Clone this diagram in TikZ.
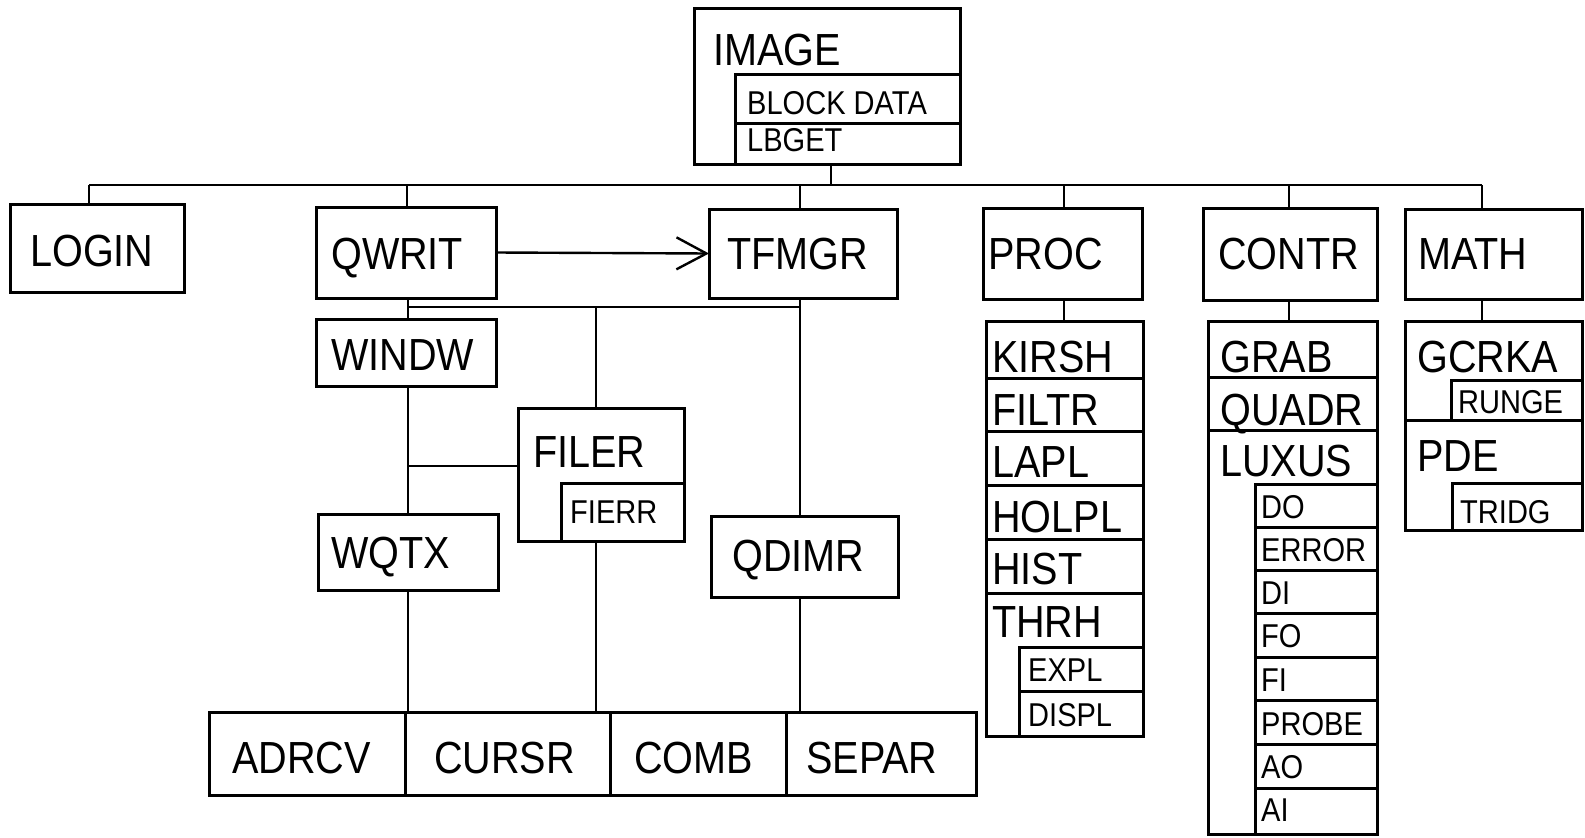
\documentclass[tikz,border=0pt]{standalone}
\usepackage{fontspec}
\setmainfont{Liberation Sans}[FakeStretch=0.88]
\usetikzlibrary{arrows.meta}
\newcommand\Bx[5]{\node[bx,minimum width=#4pt,minimum height=#5pt] (#1) at (#2,#3) {};}
\newcommand\Tb[4]{\node[big] (#1) at (#2,#3) {#4};}
\newcommand\Ts[4]{\node[sml] (#1) at (#2,#3) {#4};}
\begin{document}
\begin{tikzpicture}[x=1pt,y=-1pt,
  bx/.style={draw,line width=3pt,inner sep=0pt,outer sep=0pt,anchor=north west},
  big/.style={inner sep=0pt,anchor=base west,font=\fontsize{45}{50}\selectfont},
  sml/.style={inner sep=0pt,anchor=base west,font=\fontsize{33}{38}\selectfont},
  cn/.style={line width=2.4pt}]
\useasboundingbox (0,0) rectangle (1585,838);
% top
\Bx{image}{694}{8}{266}{156}
\Bx{blk}{735}{74}{225}{49}
\Bx{lbget}{735}{123}{225}{41}
% level 1
\Bx{login}{10}{204}{174}{88}
\Bx{qwrit}{316}{207}{180}{91}
\Bx{tfmgr}{709}{209}{188}{89}
\Bx{proc}{983}{208}{159}{91}
\Bx{contr}{1203}{208}{174}{92}
\Bx{math}{1405}{209}{177}{90}
% qwrit subtree
\Bx{windw}{316}{319}{180}{67}
\Bx{filer}{518}{408}{166}{133}
\Bx{fierr}{561}{483}{123}{58}
\Bx{wqtx}{318}{514}{180}{76}
\Bx{qdimr}{711}{516}{187}{81}
\Bx{adrcv}{209}{712}{196}{83}
\Bx{cursr}{405}{712}{205}{83}
\Bx{comb}{610}{712}{176}{83}
\Bx{separ}{786}{712}{190}{83}
% proc list
\Bx{kirsh}{986}{321}{157}{57}
\Bx{filtr}{986}{378}{157}{53}
\Bx{lapl}{986}{431}{157}{54}
\Bx{holpl}{986}{485}{157}{54}
\Bx{hist}{986}{539}{157}{54}
\Bx{thrh}{986}{593}{157}{143}
\Bx{expl}{1019}{647}{124}{44}
\Bx{displ}{1019}{691}{124}{45}
% contr list
\Bx{grab}{1208}{321}{169}{56}
\Bx{quadr}{1208}{377}{169}{53}
\Bx{luxus}{1208}{430}{169}{404}
\Bx{do}{1255}{484}{122}{43}
\Bx{error}{1255}{527}{122}{43}
\Bx{di}{1255}{570}{122}{43}
\Bx{fo}{1255}{613}{122}{44}
\Bx{fi}{1255}{657}{122}{43}
\Bx{probe}{1255}{700}{122}{44}
\Bx{ao}{1255}{744}{122}{44}
\Bx{ai}{1255}{788}{122}{46}
% math list
\Bx{gcrka}{1405}{321}{177}{99}
\Bx{runge}{1451}{380}{131}{40}
\Bx{pde}{1405}{420}{177}{110}
\Bx{tridg}{1452}{483}{130}{47}
% texts
\Tb{t-image}{713}{65}{IMAGE}
\Ts{t-blk}{747}{114}{BLOCK DATA}
\Ts{t-lbget}{747}{151}{LBGET}
\Tb{t-login}{30}{266}{LOGIN}
\Tb{t-qwrit}{331}{269}{QWRIT}
\Tb{t-tfmgr}{727}{269}{TFMGR}
\Tb{t-proc}{988}{269}{PROC}
\Tb{t-contr}{1218}{269}{CONTR}
\Tb{t-math}{1418}{269}{MATH}
\Tb{t-windw}{331}{370}{WINDW}
\Tb{t-filer}{533}{467}{FILER}
\Ts{t-fierr}{570}{523}{FIERR}
\Tb{t-wqtx}{331}{568}{WQTX}
\Tb{t-qdimr}{732}{571}{QDIMR}
\Tb{t-adrcv}{232}{773}{ADRCV}
\Tb{t-cursr}{434}{773}{CURSR}
\Tb{t-comb}{634}{773}{COMB}
\Tb{t-separ}{806}{773}{SEPAR}
\Tb{t-kirsh}{992}{372}{KIRSH}
\Tb{t-filtr}{992}{425}{FILTR}
\Tb{t-lapl}{992}{477}{LAPL}
\Tb{t-holpl}{992}{532}{HOLPL}
\Tb{t-hist}{992}{584}{HIST}
\Tb{t-thrh}{992}{637}{THRH}
\Ts{t-expl}{1028}{681}{EXPL}
\Ts{t-displ}{1028}{726}{DISPL}
\Tb{t-grab}{1220}{372}{GRAB}
\Tb{t-quadr}{1220}{425}{QUADR}
\Tb{t-luxus}{1220}{476}{LUXUS}
\Ts{t-do}{1261}{518}{DO}
\Ts{t-error}{1261}{561}{ERROR}
\Ts{t-di}{1261}{604}{DI}
\Ts{t-fo}{1261}{647}{FO}
\Ts{t-fi}{1261}{691}{FI}
\Ts{t-probe}{1261}{735}{PROBE}
\Ts{t-ao}{1261}{778}{AO}
\Ts{t-ai}{1261}{821}{AI}
\Tb{t-gcrka}{1417}{372}{GCRKA}
\Ts{t-runge}{1458}{413}{RUNGE}
\Tb{t-pde}{1417}{471}{PDE}
\Ts{t-tridg}{1460}{523}{TRIDG}
% main bus
\coordinate (jL) at (89,185);
\coordinate (jQ) at (407,185);
\coordinate (jT) at (800,185);
\coordinate (jI) at (831,185);
\coordinate (jP) at (1064,185);
\coordinate (jC) at (1289,185);
\coordinate (jM) at (1482,185);
\draw[cn] (jL) -- (jM);
\draw[cn] (jI) -- (jI |- image.south);
\draw[cn] (jL) -- (jL |- login.north);
\draw[cn] (jQ) -- (jQ |- qwrit.north);
\draw[cn] (jT) -- (jT |- tfmgr.north);
\draw[cn] (jP) -- (jP |- proc.north);
\draw[cn] (jC) -- (jC |- contr.north);
\draw[cn] (jM) -- (jM |- math.north);
% lists
\draw[cn] (jP |- proc.south) -- (jP |- kirsh.north);
\draw[cn] (jC |- contr.south) -- (jC |- grab.north);
\draw[cn] (jM |- math.south) -- (jM |- gcrka.north);
% qwrit subtree
\coordinate (kQ) at (408,307);
\coordinate (kF) at (596,307);
\coordinate (kT) at (800,307);
\coordinate (kB) at (408,466);
\draw[cn,-{Straight Barb[length=30pt,width=32pt]}] (qwrit.east) -- (tfmgr.west);
\draw[cn] (kQ |- qwrit.south) -- (kQ |- windw.north);
\draw[cn] (kQ) -- (kT);
\draw[cn] (kT |- tfmgr.south) -- (kT |- qdimr.north);
\draw[cn] (kF) -- (kF |- filer.north);
\draw[cn] (kQ |- windw.south) -- (kQ |- wqtx.north);
\draw[cn] (kB) -- (kB -| filer.west);
\draw[cn] (kQ |- wqtx.south) -- (kQ |- cursr.north);
\draw[cn] (kF |- fierr.south) -- (kF |- cursr.north);
\draw[cn] (kT |- qdimr.south) -- (kT |- separ.north);
\end{tikzpicture}
\end{document}
